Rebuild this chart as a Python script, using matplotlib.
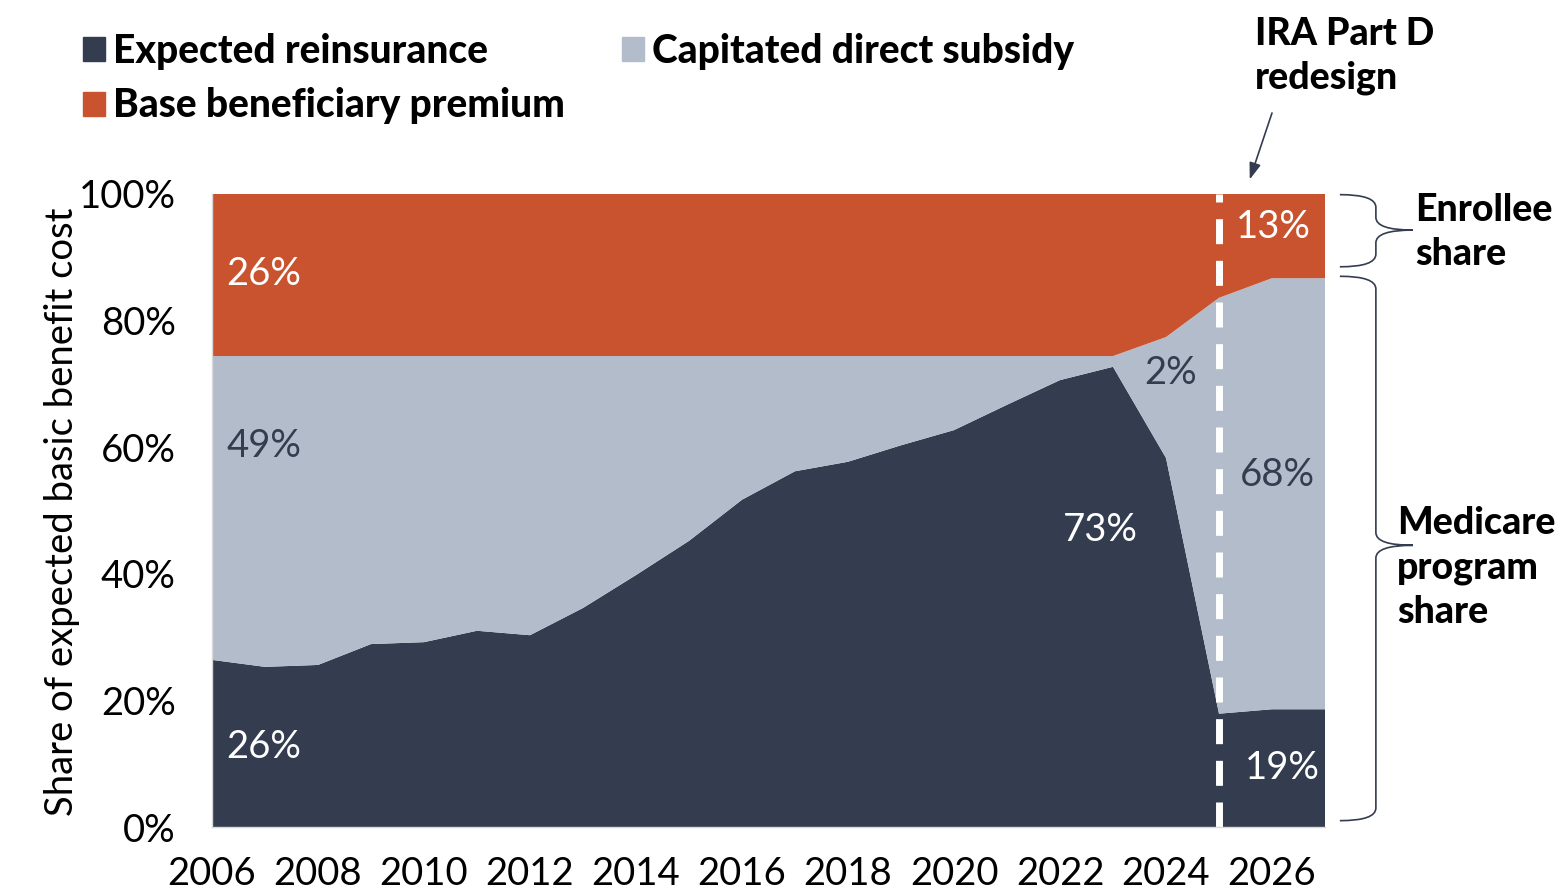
import numpy as np
import matplotlib
matplotlib.use("Agg")
import matplotlib.pyplot as plt
from matplotlib.patches import Patch, PathPatch
from matplotlib.path import Path

years = list(range(2006, 2028))
reinsurance = [26.4, 25.3, 25.6, 28.9, 29.2, 31.0, 30.3, 34.6, 39.8, 45.2, 51.7,
               56.2, 57.7, 60.3, 62.7, 66.7, 70.6, 72.7, 58.3, 17.9, 18.6, 18.6]
capitated = [48.0, 49.1, 48.8, 45.5, 45.2, 43.4, 44.1, 39.8, 34.6, 29.2, 22.7,
             18.2, 16.7, 14.1, 11.7, 7.7, 3.8, 1.7, 19.1, 65.7, 68.1, 68.1]
premium = [25.6] * 18 + [22.6, 16.4, 13.3, 13.3]

series_names = ["Expected reinsurance", "Capitated direct subsidy", "Base beneficiary premium"]
xtick_years = list(range(2006, 2027, 2))
ytick_vals = [0, 20, 40, 60, 80, 100]
redesign_year = 2025

DARK = "#343d50"
LIGHT = "#b3bccb"
ORANGE = "#c9532e"

plt.rcParams['font.family'] = ['Lato', 'DejaVu Sans']
REG = 27.5

fig = plt.figure(figsize=(15.64, 8.91), dpi=100)
ax = fig.add_axes([212 / 1564, 1 - 827 / 891, (1325 - 212) / 1564, (827 - 194) / 891])

ax.stackplot(years, reinsurance, capitated, premium,
             colors=[DARK, LIGHT, ORANGE], linewidth=0)
ax.set_xlim(2006, 2027)
ax.set_ylim(0, 100)

ax.set_xticks(xtick_years)
ax.set_xticklabels([str(y) for y in xtick_years])
ax.set_yticks(ytick_vals)
ax.set_yticklabels(["%d%%" % v for v in ytick_vals])
ax.tick_params(axis='x', length=0, pad=21, labelsize=REG)
ax.tick_params(axis='y', length=0, pad=26, labelsize=REG)
for s in ["top", "right"]:
    ax.spines[s].set_visible(False)
for s in ["left", "bottom"]:
    ax.spines[s].set_color("#d9d9d9")
    ax.spines[s].set_linewidth(1)
ax.text(-0.1348, 0.498, "Share of expected basic benefit cost", fontsize=REG,
        rotation=90, ha='center', va='center', transform=ax.transAxes)

# redesign line
ax.plot([redesign_year, redesign_year], [0, 100], color="white", lw=5,
        dashes=(3.6, 2.4), dash_capstyle='butt')

# value labels
lab = dict(fontsize=REG, ha='center', va='center')
ax.text(2006.98, 87.4, "26%", color="white", **lab)
ax.text(2006.98, 60.2, "49%", color=DARK, **lab)
ax.text(2006.98, 12.6, "26%", color="white", **lab)
ax.text(2022.77, 46.9, "73%", color="white", **lab)
ax.text(2024.09, 71.7, "2%", color=DARK, **lab)
ax.text(2026.02, 94.8, "13%", color="white", **lab)
ax.text(2026.11, 55.6, "68%", color=DARK, **lab)
ax.text(2026.19, 9.3, "19%", color="white", **lab)

# arrow for IRA redesign
ax.annotate("", xy=(2025.58, 102.3), xytext=(2026.0, 112.8),
            arrowprops=dict(arrowstyle="-|>,head_length=1.0,head_width=0.35",
                            color=DARK, lw=1.2, shrinkA=0, shrinkB=0),
            annotation_clip=False)
bold = dict(fontsize=27, fontweight='black', ha='left', va='center',
            linespacing=1.35, clip_on=False)
ax.text(2025.68, 121.8, "IRA Part D\nredesign", **bold)


def brace(ax, ytop, ybot, ytip, x0, xs, xt, r):
    verts = [(x0, ytop), (xs, ytop), (xs, ytop - r),
             (xs, ytip + r),
             (xs, ytip), (xt, ytip),
             (xs, ytip), (xs, ytip - r),
             (xs, ybot + r),
             (xs, ybot), (x0, ybot)]
    codes = [Path.MOVETO, Path.CURVE3, Path.CURVE3,
             Path.LINETO,
             Path.CURVE3, Path.CURVE3,
             Path.CURVE3, Path.CURVE3,
             Path.LINETO,
             Path.CURVE3, Path.CURVE3]
    ax.add_patch(PathPatch(Path(verts, codes), facecolor='none', edgecolor=DARK,
                           lw=1.2, clip_on=False))


brace(ax, 99.9, 88.5, 94.3, 2027.28, 2027.96, 2028.66, 2.0)
brace(ax, 87.0, 1.0, 44.5, 2027.28, 2027.96, 2028.66, 2.0)

ax.text(2028.70, 94.0, "Enrollee\nshare", **bold)
ax.text(2028.36, 41.0, "Medicare\nprogram\nshare", **bold)

handles = [Patch(color=DARK, label=series_names[0]),
           Patch(color=ORANGE, label=series_names[2]),
           Patch(color=LIGHT, label=series_names[1])]
fig.legend(handles=handles, loc='upper left', bbox_to_anchor=(83 / 1564, 1 - 33 / 891),
           ncol=2, frameon=False, prop=dict(size=28, weight='black'),
           handlelength=0.57, handleheight=0.57, handletextpad=0.2,
           columnspacing=1.46, labelspacing=0.45, borderaxespad=0, borderpad=0)

fig.savefig("out.png", dpi=100)
